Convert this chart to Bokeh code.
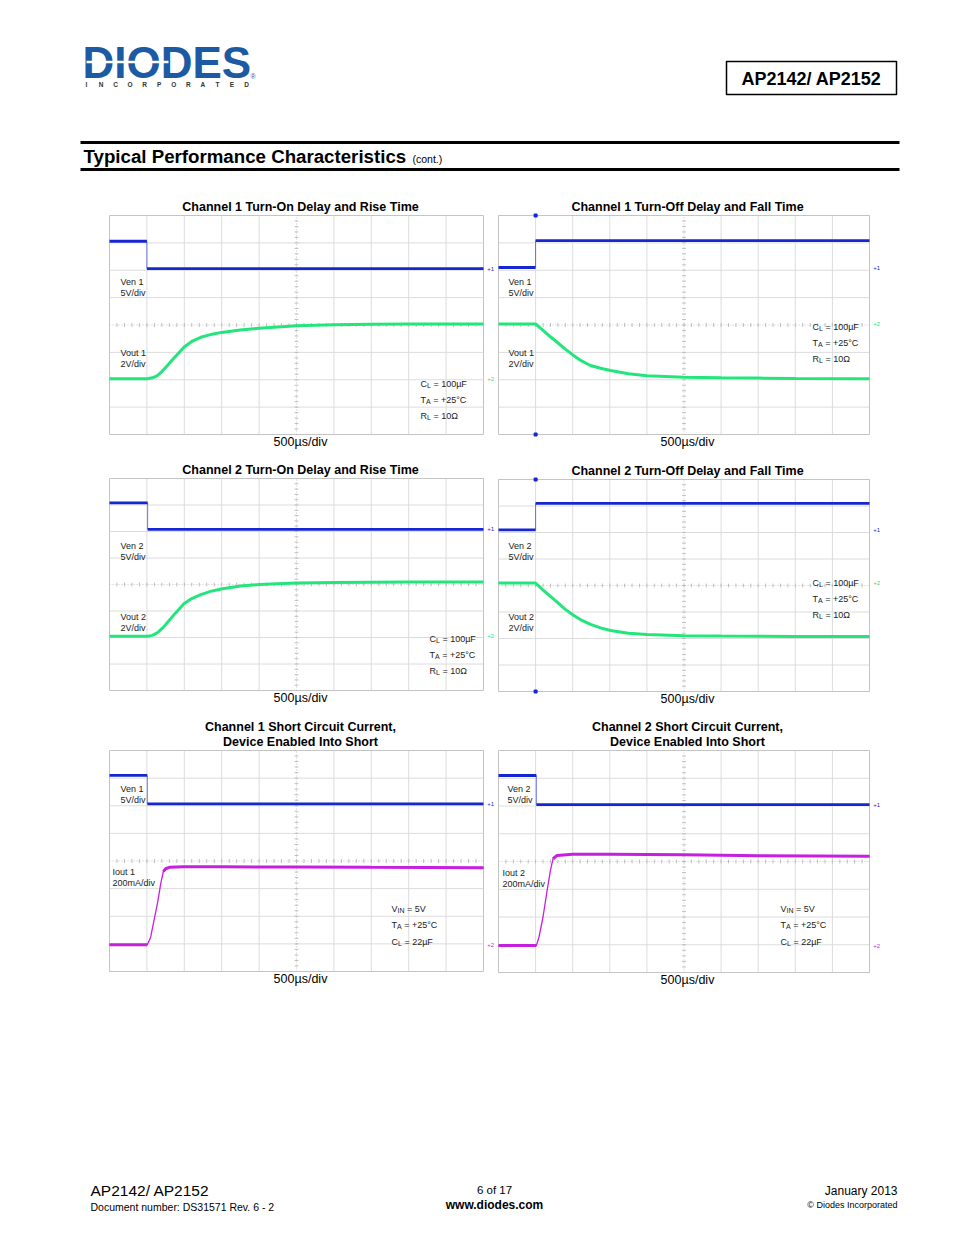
import numpy as np
from bokeh.plotting import figure
from bokeh.models import Range1d
from bokeh.core.properties import value
from bokeh.embed import file_html
from bokeh.resources import INLINE

FONT = "Liberation Sans"
BLUE = "#1626d0"
GREEN = "#22e67c"
MAGENTA = "#c61fe0"
LOGO_BLUE = "#1d5aa4"
GRID = "#dcdcdc"
FRAME = "#c4c4c4"
NB = "\u00a0"

# ---------------- data (divisions: x = 500us/div, y = screen divisions) -------------
x_divs = list(range(0, 11))
y_divs = list(range(0, 9))

# Panel 1: Channel 1 turn-on
p1_ven = dict(hi=7.06, lo=6.06, t=1.0, first="hi")
p1_out_x = [0, 1.0, 1.15, 1.28, 1.4, 1.55, 1.7, 1.85, 1.99, 2.2, 2.44, 2.7, 3.0, 3.5, 4.0, 4.5, 5.0, 6.0, 7.0, 8.0, 10.0]
p1_out_y = [2.04, 2.04, 2.07, 2.15, 2.3, 2.52, 2.76, 2.98, 3.19, 3.4, 3.55, 3.65, 3.73, 3.82, 3.88, 3.93, 3.97, 4.01, 4.03, 4.04, 4.04]

# Panel 2: Channel 1 turn-off
p2_ven = dict(hi=7.08, lo=6.1, t=1.0, first="lo")
p2_out_x = [0, 1.0, 1.2, 1.4, 1.58, 1.8, 2.03, 2.25, 2.48, 2.75, 3.02, 3.5, 4.0, 5.0, 6.0, 7.0, 8.0, 10.0]
p2_out_y = [4.04, 4.04, 3.8, 3.57, 3.37, 3.12, 2.88, 2.68, 2.52, 2.42, 2.34, 2.22, 2.15, 2.09, 2.07, 2.06, 2.05, 2.04]

# Panel 3: Channel 2 turn-on
p3_ven = dict(hi=7.08, lo=6.08, t=1.02, first="hi")
p3_out_x = [0, 1.02, 1.15, 1.3, 1.45, 1.6, 1.75, 1.9, 1.99, 2.2, 2.44, 2.7, 3.02, 3.5, 4.01, 5.0, 6.0, 8.0, 10.0]
p3_out_y = [2.05, 2.05, 2.08, 2.2, 2.4, 2.65, 2.9, 3.13, 3.27, 3.47, 3.62, 3.74, 3.84, 3.94, 4.0, 4.06, 4.08, 4.09, 4.09]

# Panel 4: Channel 2 turn-off
p4_ven = dict(hi=7.1, lo=6.1, t=1.0, first="lo")
p4_out_x = [0, 1.0, 1.2, 1.4, 1.58, 1.8, 2.03, 2.25, 2.48, 2.75, 3.02, 3.5, 4.0, 5.0, 6.0, 8.0, 10.0]
p4_out_y = [4.09, 4.09, 3.83, 3.59, 3.37, 3.1, 2.87, 2.68, 2.53, 2.4, 2.3, 2.2, 2.15, 2.1, 2.09, 2.08, 2.08]

# Panel 5: Channel 1 short circuit current
p5_ven = dict(hi=7.1, lo=6.07, t=1.01, first="hi")
p5_out_x = [0, 1.01, 1.1, 1.19, 1.28, 1.37, 1.44, 1.5, 1.6, 2.0, 3.0, 5.0, 7.0, 10.0]
p5_out_y = [0.97, 0.97, 1.24, 1.85, 2.45, 3.18, 3.62, 3.72, 3.77, 3.79, 3.79, 3.78, 3.77, 3.76]

# Panel 6: Channel 2 short circuit current
p6_ven = dict(hi=7.1, lo=6.05, t=1.02, first="hi")
p6_out_x = [0, 1.02, 1.09, 1.2, 1.31, 1.4, 1.47, 1.58, 2.0, 3.0, 5.0, 7.0, 10.0]
p6_out_y = [0.97, 0.97, 1.27, 2.0, 2.95, 3.68, 4.1, 4.22, 4.26, 4.26, 4.24, 4.21, 4.19]

titles = [
    ["Channel 1 Turn-On Delay and Rise Time"],
    ["Channel 1 Turn-Off Delay and Fall Time"],
    ["Channel 2 Turn-On Delay and Rise Time"],
    ["Channel 2 Turn-Off Delay and Fall Time"],
    ["Channel 1 Short Circuit Current,", "Device Enabled Into Short"],
    ["Channel 2 Short Circuit Current,", "Device Enabled Into Short"],
]
xlabel = "500µs/div"

# ---------------- page figure (page-pixel coordinates) ----------------
p = figure(width=938, height=1212, x_range=Range1d(0, 938), y_range=Range1d(1212, 0),
           output_backend="svg", toolbar_location=None, min_border=0,
           x_axis_location=None, y_axis_location=None, outline_line_color=None,
           background_fill_color="white", border_fill_color="white")
p.grid.visible = False


def T(x, y, s, size, bold=False, align="left", color="#000000", baseline="middle", font=FONT, target=None):
    g = target if target is not None else p
    g.text(x=[x], y=[y], text=[s], text_font=value(font), text_font_size=value(f"{size}px"),
           text_font_style="bold" if bold else "normal", text_align=align,
           text_baseline=baseline, text_color=color)


MAINW = {"C": .722, "T": .611, "R": .722, "V": .667}
SUBW = {"L": .556, "A": .667, "IN": 1.0}


def SUBL(x, y, main, sub, rest, size=9):
    T(x, y, main, size, color="#222222")
    xs = x + MAINW[main] * size
    T(xs, y + 2, sub, 7, color="#222222")
    T(xs + SUBW[sub] * 7, y, rest, size, color="#222222")


# ---------------- header ----------------
T(82, 62, "DIODES", 44, bold=True, color=LOGO_BLUE)
p.segment(x0=[86], y0=[61.5], x1=[168], y1=[61.5], line_color="white", line_width=2.5)
inc_letters = list("INCORPORATED")
for xx, ch in zip(np.linspace(86, 246, len(inc_letters)), inc_letters):
    T(xx, 83.5, ch, 6.5, bold=True, align="center", color="#333333")
T(250, 76, "®", 7, color=LOGO_BLUE)

p.quad(left=[726], right=[896], top=[61], bottom=[94], fill_color=None, line_color="black", line_width=1.5)
T(811, 78, "AP2142/ AP2152", 18, bold=True, align="center")

p.segment(x0=[80], y0=[142], x1=[899], y1=[142], line_color="black", line_width=3)
p.segment(x0=[80], y0=[169], x1=[899], y1=[169], line_color="black", line_width=3)
T(83, 156, "Typical Performance Characteristics", 18.7, bold=True)
T(412, 158, "(cont.)", 10.5)

# ---------------- footer ----------------
T(90, 1190, "AP2142/ AP2152", 15.5)
T(90, 1206, "Document number: DS31571 Rev. 6 - 2", 10.5)
T(494, 1189, "6 of 17", 11.5, align="center")
T(494, 1204, "www.diodes.com", 12, bold=True, align="center")
T(897, 1190, "January 2013", 12, align="right")
T(897, 1204, "© Diodes Incorporated", 9, align="right")

# ---------------- scope panels ----------------
panels = [
    dict(l=109, r=483, t=215, b=434, ven=p1_ven, ox=p1_out_x, oy=p1_out_y, oc=GREEN, cur=False),
    dict(l=498, r=869, t=215, b=434, ven=p2_ven, ox=p2_out_x, oy=p2_out_y, oc=GREEN, cur=False),
    dict(l=109, r=483, t=478, b=690, ven=p3_ven, ox=p3_out_x, oy=p3_out_y, oc=GREEN, cur=False),
    dict(l=498, r=869, t=479, b=691, ven=p4_ven, ox=p4_out_x, oy=p4_out_y, oc=GREEN, cur=False),
    dict(l=109, r=483, t=750, b=971, ven=p5_ven, ox=p5_out_x, oy=p5_out_y, oc=MAGENTA, cur=True),
    dict(l=498, r=869, t=750, b=972, ven=p6_ven, ox=p6_out_x, oy=p6_out_y, oc=MAGENTA, cur=True),
]

minor_x = np.round(np.arange(0, 10.001, 0.2), 2)
minor_y = np.round(np.arange(0, 8.001, 0.2), 2)

for i, pn in enumerate(panels):
    sub = p.subplot(x_source=Range1d(0, 10), y_source=Range1d(0, 8),
                    x_target=Range1d(pn["l"], pn["r"]), y_target=Range1d(pn["b"], pn["t"]))
    # grid
    gx = [v for v in x_divs if v not in (0, 5, 10)]
    gy = [v for v in y_divs if v not in (0, 4, 8)]
    sub.segment(x0=gx, y0=[0] * len(gx), x1=gx, y1=[8] * len(gx), line_color=GRID, line_width=1)
    sub.segment(x0=[0] * len(gy), y0=gy, x1=[10] * len(gy), y1=gy, line_color=GRID, line_width=1)
    # centre axes with minor ticks
    sub.segment(x0=[5], y0=[0], x1=[5], y1=[8], line_color="#c8c8c8", line_width=1, line_dash="1 2")
    sub.segment(x0=[0], y0=[4], x1=[10], y1=[4], line_color="#c8c8c8", line_width=1, line_dash="1 2")
    sub.segment(x0=minor_x, y0=[3.93] * len(minor_x), x1=minor_x, y1=[4.07] * len(minor_x),
                line_color="#bdbdbd", line_width=1)
    sub.segment(x0=[4.95] * len(minor_y), y0=minor_y, x1=[5.05] * len(minor_y), y1=minor_y,
                line_color="#bdbdbd", line_width=1)
    # frame
    sub.quad(left=[0], right=[10], bottom=[0], top=[8], fill_color=None, line_color=FRAME, line_width=1)

    # enable trace
    v = pn["ven"]
    y_first = v[v["first"]]
    y_second = v["lo"] if v["first"] == "hi" else v["hi"]
    sub.line(x=[v["t"], v["t"]], y=[y_first, y_second], line_color=BLUE, line_width=1, line_alpha=0.6)
    sub.line(x=[0, v["t"]], y=[y_first, y_first], line_color=BLUE, line_width=2.8)
    sub.line(x=[v["t"], 10], y=[y_second, y_second], line_color=BLUE, line_width=2.8)

    # output trace
    ox, oy = pn["ox"], pn["oy"]
    if pn["cur"]:
        sub.line(x=ox, y=oy, line_color=pn["oc"], line_width=1.3)
        sub.line(x=ox[:2], y=oy[:2], line_color=pn["oc"], line_width=3)
        sub.line(x=ox[6:], y=oy[6:], line_color=pn["oc"], line_width=3)
    else:
        sub.line(x=ox, y=oy, line_color=pn["oc"], line_width=3)

    # channel reference markers at right edge
    T(10.1, v["lo"], "+1", 6, color=BLUE, target=sub)
    T(10.1, oy[0], "+2", 6, color=pn["oc"], target=sub)
    if v["first"] == "lo":
        sub.scatter(x=[v["t"], v["t"]], y=[0, 8], marker="square", size=3, color=BLUE)

    # titles
    cx = 300 if pn["l"] < 300 else 687
    if len(titles[i]) == 1:
        T(cx, pn["t"] - 9, titles[i][0], 12.5, bold=True, align="center")
    else:
        T(cx, pn["t"] - 24, titles[i][0], 12.5, bold=True, align="center")
        T(cx, pn["t"] - 9, titles[i][1], 12.5, bold=True, align="center")
    T(cx, pn["b"] + 7, xlabel, 12.5, align="center")

# channel labels
lab = [
    (120, 281, "Ven 1", "5V/div", 120, 352, "Vout 1", "2V/div"),
    (508, 281, "Ven 1", "5V/div", 508, 352, "Vout 1", "2V/div"),
    (120, 545, "Ven 2", "5V/div", 120, 616, "Vout 2", "2V/div"),
    (508, 545, "Ven 2", "5V/div", 508, 616, "Vout 2", "2V/div"),
    (120, 788, "Ven 1", "5V/div", 112, 871, "Iout 1", "200mA/div"),
    (507, 788, "Ven 2", "5V/div", 502, 872, "Iout 2", "200mA/div"),
]
for (x1, y1, a1, b1, x2, y2, a2, b2) in lab:
    T(x1, y1, a1, 9, color="#222222")
    T(x1, y1 + 11, b1, 9, color="#222222")
    T(x2, y2, a2, 9, color="#222222")
    T(x2, y2 + 11, b2, 9, color="#222222")

# test conditions
cond_pos = [(420, 383), (812, 326), (429, 638), (812, 582), (391, 908), (780, 908)]
for k, (cx, cy) in enumerate(cond_pos):
    if k < 4:
        SUBL(cx, cy, "C", "L", NB + "= 100µF")
        SUBL(cx, cy + 16, "T", "A", NB + "= +25°C")
        SUBL(cx, cy + 32, "R", "L", NB + "= 10Ω")
    else:
        SUBL(cx, cy, "V", "IN", NB + "= 5V")
        SUBL(cx, cy + 16, "T", "A", NB + "= +25°C")
        SUBL(cx, cy + 33, "C", "L", NB + "= 22µF")

open("out.html", "w").write(file_html(p, INLINE))
